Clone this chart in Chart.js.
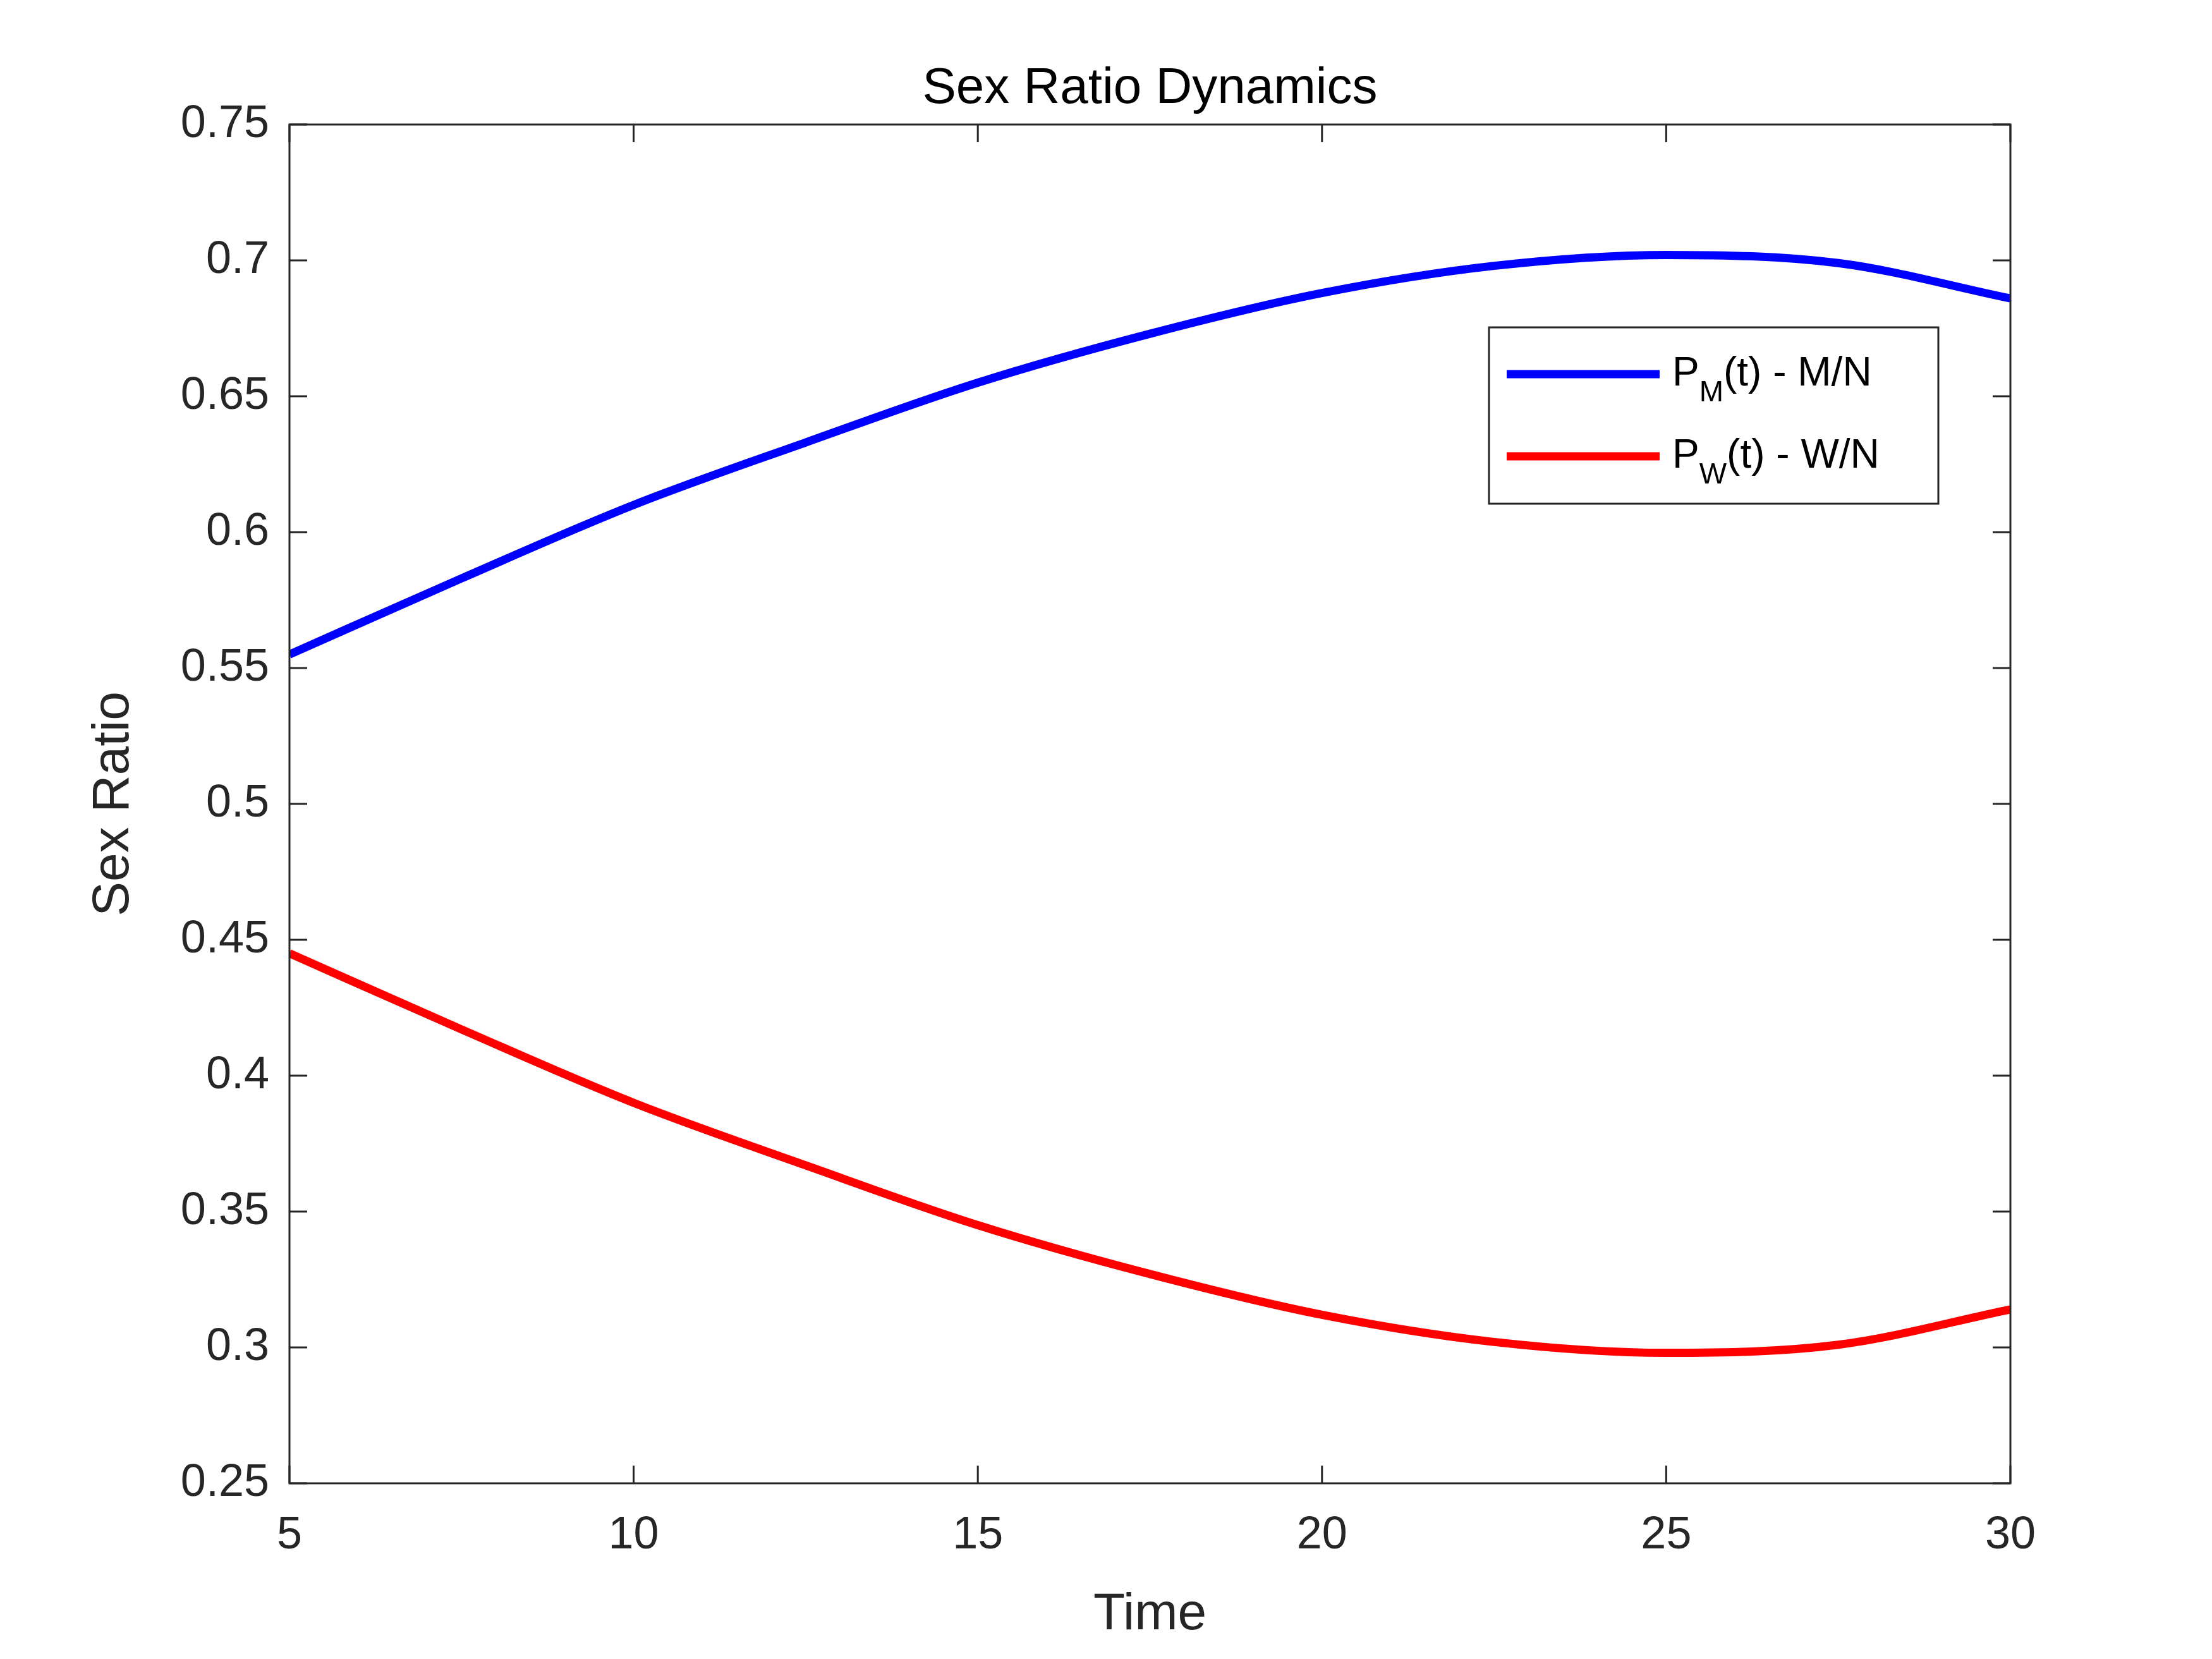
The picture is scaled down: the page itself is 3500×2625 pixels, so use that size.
<!DOCTYPE html>
<html>
<head>
<meta charset="utf-8">
<script src="https://cdn.jsdelivr.net/npm/chart.js@4.4.0/dist/chart.umd.min.js"></script>
<style>
  body { margin: 0; background: #fff; }
</style>
</head>
<body>
<canvas id="ratio-chart" width="3500" height="2625"></canvas>
<script>
var times = [5, 7.5, 10, 12.5, 15, 17.5, 20, 22.5, 25, 27.5, 30];
var maleRatio = [0.555, 0.583, 0.610, 0.633, 0.655, 0.673, 0.688, 0.698, 0.702, 0.699, 0.686];
var womenRatio = [0.445, 0.417, 0.390, 0.367, 0.345, 0.327, 0.312, 0.302, 0.298, 0.301, 0.314];
var legendNames = [['P', 'M', '(t) - M/N'], ['P', 'W', '(t) - W/N']];
var seriesColors = ['#0000ff', '#ff0000'];

var FONT = '"Liberation Sans", Arial, sans-serif';
var AXIS_COLOR = '#262626';

function pts(ys) {
  return times.map(function (t, i) { return { x: t, y: ys[i] }; });
}

// box, inward ticks on all four sides, titles and legend (MATLAB style)
var matlabFrame = {
  id: 'matlabFrame',
  afterDraw: function (chart) {
    var c = chart.ctx, a = chart.chartArea;
    var xs = chart.scales.x, ys = chart.scales.y;
    c.save();
    c.strokeStyle = AXIS_COLOR;
    c.lineWidth = 3;
    c.strokeRect(a.left, a.top, a.right - a.left, a.bottom - a.top);
    var tl = 28;
    xs.ticks.forEach(function (t) {
      var px = xs.getPixelForValue(t.value);
      c.beginPath();
      c.moveTo(px, a.bottom); c.lineTo(px, a.bottom - tl);
      c.moveTo(px, a.top); c.lineTo(px, a.top + tl);
      c.stroke();
    });
    ys.ticks.forEach(function (t) {
      var py = ys.getPixelForValue(t.value);
      c.beginPath();
      c.moveTo(a.left, py); c.lineTo(a.left + tl, py);
      c.moveTo(a.right, py); c.lineTo(a.right - tl, py);
      c.stroke();
    });

    c.fillStyle = '#000';
    c.textAlign = 'center';
    c.textBaseline = 'middle';
    c.font = '80px ' + FONT;
    c.fillText('Sex Ratio Dynamics', (a.left + a.right) / 2, 141);
    c.fillStyle = AXIS_COLOR;
    c.font = '82px ' + FONT;
    c.fillText('Time', (a.left + a.right) / 2, 2555);
    c.save();
    c.translate(180, (a.top + a.bottom) / 2);
    c.rotate(-Math.PI / 2);
    c.fillText('Sex Ratio', 0, 0);
    c.restore();

    // legend
    var lx = 2356, ly = 518, lw = 711, lh = 279;
    c.fillStyle = '#fff';
    c.fillRect(lx, ly, lw, lh);
    c.strokeStyle = AXIS_COLOR;
    c.lineWidth = 3;
    c.strokeRect(lx, ly, lw, lh);
    legendNames.forEach(function (n, i) {
      var cy = ly + 74 + i * 130;
      c.strokeStyle = seriesColors[i];
      c.lineWidth = 13;
      c.beginPath();
      c.moveTo(lx + 28, cy); c.lineTo(lx + 270, cy);
      c.stroke();
      c.fillStyle = '#000';
      c.textAlign = 'left';
      c.font = '64px ' + FONT;
      var x = lx + 290;
      c.fillText(n[0], x, cy);
      x += c.measureText(n[0]).width;
      c.font = '46px ' + FONT;
      c.fillText(n[1], x, cy + 30);
      x += c.measureText(n[1]).width;
      c.font = '64px ' + FONT;
      c.fillText(n[2], x, cy);
    });
    c.restore();
  }
};

new Chart(document.getElementById('ratio-chart'), {
  type: 'line',
  data: {
    datasets: [{
      label: 'P_M(t) - M/N',
      data: pts(maleRatio),
      borderColor: seriesColors[0],
      borderWidth: 13,
      pointRadius: 0,
      cubicInterpolationMode: 'monotone'
    }, {
      label: 'P_W(t) - W/N',
      data: pts(womenRatio),
      borderColor: seriesColors[1],
      borderWidth: 13,
      pointRadius: 0,
      cubicInterpolationMode: 'monotone'
    }]
  },
  options: {
    responsive: false,
    animation: false,
    layout: { padding: { top: 197, right: 319, left: 0, bottom: 0 } },
    plugins: { legend: { display: false }, tooltip: { enabled: false } },
    scales: {
      x: {
        type: 'linear', min: 5, max: 30,
        afterFit: function (s) { s.height = 278; },
        grid: { display: false, drawTicks: false },
        border: { display: false },
        ticks: { stepSize: 5, padding: 40, color: AXIS_COLOR, font: { size: 72, family: FONT } }
      },
      y: {
        min: 0.25, max: 0.75,
        afterFit: function (s) { s.width = 458; },
        grid: { display: false, drawTicks: false },
        border: { display: false },
        ticks: {
          stepSize: 0.05, padding: 32, color: AXIS_COLOR, font: { size: 72, family: FONT },
          callback: function (v) { return String(Number(v.toFixed(2))); }
        }
      }
    }
  },
  plugins: [matlabFrame]
});
</script>
</body>
</html>
